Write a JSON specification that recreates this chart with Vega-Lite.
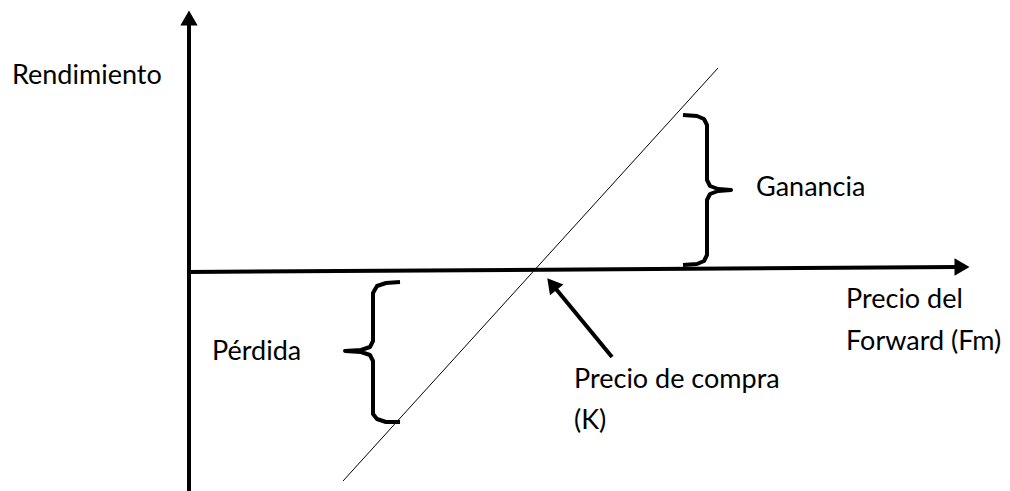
{
  "$schema": "https://vega.github.io/schema/vega-lite/v6.json",
  "width": 1010,
  "height": 491,
  "autosize": {"type": "none"},
  "padding": 0,
  "background": "white",
  "config": {"view": {"stroke": null}},
  "datasets": {
    "lines": [
      {"g": "vaxis", "o": 0, "x": 189, "y": 491},
      {"g": "vaxis", "o": 1, "x": 189, "y": 22},
      {"g": "haxis", "o": 0, "x": 187, "y": 272},
      {"g": "haxis", "o": 1, "x": 958, "y": 267},
      {"g": "arrow", "o": 0, "x": 612, "y": 357},
      {"g": "arrow", "o": 1, "x": 556, "y": 289}
    ],
    "diag": [
      {"o": 0, "x": 343, "y": 481},
      {"o": 1, "x": 718, "y": 68}
    ],
    "braces": [
      {"g": "left", "o": 0, "x": 400, "y": 282},
      {"g": "left", "o": 1, "x": 386, "y": 283},
      {"g": "left", "o": 2, "x": 377, "y": 286},
      {"g": "left", "o": 3, "x": 373, "y": 293},
      {"g": "left", "o": 4, "x": 373, "y": 341},
      {"g": "left", "o": 5, "x": 370, "y": 347},
      {"g": "left", "o": 6, "x": 361, "y": 350},
      {"g": "left", "o": 7, "x": 345, "y": 351},
      {"g": "left", "o": 8, "x": 361, "y": 352},
      {"g": "left", "o": 9, "x": 370, "y": 355},
      {"g": "left", "o": 10, "x": 373, "y": 361},
      {"g": "left", "o": 11, "x": 373, "y": 414},
      {"g": "left", "o": 12, "x": 377, "y": 419},
      {"g": "left", "o": 13, "x": 386, "y": 422},
      {"g": "left", "o": 14, "x": 400, "y": 422},
      {"g": "right", "o": 0, "x": 683, "y": 115},
      {"g": "right", "o": 1, "x": 697, "y": 116},
      {"g": "right", "o": 2, "x": 704, "y": 119},
      {"g": "right", "o": 3, "x": 707, "y": 125},
      {"g": "right", "o": 4, "x": 707, "y": 180},
      {"g": "right", "o": 5, "x": 710, "y": 186},
      {"g": "right", "o": 6, "x": 718, "y": 189},
      {"g": "right", "o": 7, "x": 731, "y": 190},
      {"g": "right", "o": 8, "x": 718, "y": 191},
      {"g": "right", "o": 9, "x": 710, "y": 194},
      {"g": "right", "o": 10, "x": 707, "y": 200},
      {"g": "right", "o": 11, "x": 707, "y": 255},
      {"g": "right", "o": 12, "x": 704, "y": 261},
      {"g": "right", "o": 13, "x": 697, "y": 264},
      {"g": "right", "o": 14, "x": 683, "y": 265}
    ],
    "heads": [
      {"g": "up", "x": 189, "y": 18},
      {"g": "right", "x": 962, "y": 267},
      {"g": "diag", "x": 552, "y": 284}
    ],
    "labels": [
      {"t": "Rendimiento", "x": 12, "y": 84},
      {"t": "Ganancia", "x": 756, "y": 196},
      {"t": "Precio del", "x": 846, "y": 308},
      {"t": "Forward (Fm)", "x": 846, "y": 350},
      {"t": "Pérdida", "x": 212, "y": 360},
      {"t": "Precio de compra", "x": 574, "y": 388},
      {"t": "(K)", "x": 574, "y": 429}
    ]
  },
  "encoding": {
    "x": {"field": "x", "type": "quantitative", "scale": {"domain": [0, 1010], "nice": false, "zero": false}, "axis": null},
    "y": {"field": "y", "type": "quantitative", "scale": {"domain": [0, 491], "nice": false, "zero": false, "reverse": true}, "axis": null}
  },
  "layer": [
    {
      "data": {"name": "diag"},
      "mark": {"type": "line", "color": "black", "strokeWidth": 1},
      "encoding": {"order": {"field": "o"}}
    },
    {
      "data": {"name": "lines"},
      "mark": {"type": "line", "color": "black", "strokeWidth": 4},
      "encoding": {"detail": {"field": "g"}, "order": {"field": "o"}}
    },
    {
      "data": {"name": "braces"},
      "mark": {"type": "line", "color": "black", "strokeWidth": 4, "strokeJoin": "round", "strokeCap": "butt"},
      "encoding": {"detail": {"field": "g"}, "order": {"field": "o"}}
    },
    {
      "data": {"name": "heads"},
      "transform": [{"filter": "datum.g === 'up'"}],
      "mark": {"type": "point", "shape": "triangle-up", "filled": true, "color": "black", "size": 300, "opacity": 1}
    },
    {
      "data": {"name": "heads"},
      "transform": [{"filter": "datum.g === 'right'"}],
      "mark": {"type": "point", "shape": "triangle-right", "filled": true, "color": "black", "size": 300, "opacity": 1}
    },
    {
      "data": {"name": "heads"},
      "transform": [{"filter": "datum.g === 'diag'"}],
      "mark": {"type": "point", "shape": "triangle-up", "filled": true, "color": "black", "size": 300, "angle": 321, "opacity": 1}
    },
    {
      "data": {"name": "labels"},
      "mark": {"type": "text", "align": "left", "baseline": "alphabetic", "font": "Lato", "fontSize": 27, "color": "black"},
      "encoding": {"text": {"field": "t"}}
    }
  ]
}
